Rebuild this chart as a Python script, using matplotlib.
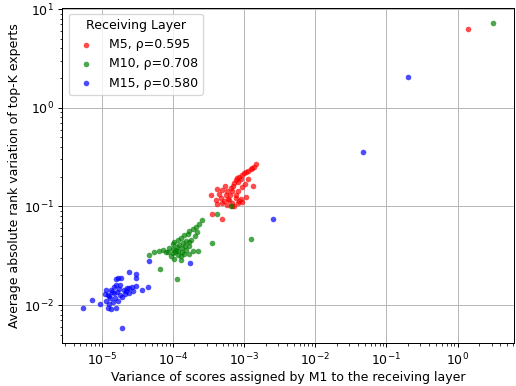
import matplotlib.pyplot as plt
import numpy as np

# values, stored as log10 exponents
m5_log_x = [-2.838, -2.861, -2.885, -2.910, -2.941, -2.973, -3.001, -3.025, -3.071, -3.099,
            -3.118, -3.043, -3.141, -3.092, -3.188, -3.155, -3.235, -3.305, -3.375, -3.258,
            -3.169, -3.081, -2.875, -3.468, -3.398, -3.328, -3.281, -3.211, -3.118, -2.969,
            -3.071, -3.165, -3.235, -3.305, -3.081, -3.141, -3.174, -3.445, -3.305, -3.225,
            -3.352, -3.029, -2.987, -2.945, -3.266, -3.197, -3.113, -3.043, -3.375, -3.029,
            0.150]
m5_log_y = [-0.569, -0.596, -0.612, -0.624, -0.636, -0.649, -0.663, -0.680, -0.697, -0.715,
            -0.730, -0.720, -0.764, -0.751, -0.814, -0.791, -0.848, -0.831, -0.824, -0.882,
            -0.841, -0.848, -0.791, -0.882, -0.932, -0.912, -0.942, -0.932, -0.915, -0.905,
            -0.949, -0.966, -0.983, -0.966, -0.966, -0.993, -1.000, -1.074, -1.127, -0.922,
            -0.871, -0.801, -0.776, -0.720, -0.791, -0.887, -0.882, -0.922, -0.971, -0.958,
            0.798]

m10_log_x = [-3.375, -3.188, -2.899, -3.457, -3.597, -3.632, -3.678, -3.725, -3.772, -3.795,
             -3.842, -3.888, -3.936, -3.982, -4.006, -3.912, -3.856, -3.772, -3.725, -3.646,
             -3.817, -3.958, -4.052, -4.098, -4.192, -4.262, -4.332, -4.006, -3.936, -4.028,
             -3.888, -3.982, -3.888, -3.772, -4.178, -3.950, -3.877, -3.940, -3.814, -3.870,
             -3.968, -4.066, -3.697, -3.748, -3.666, -3.828, -3.996, -3.926, -3.849, -3.772,
             -4.139, 0.504]
m10_log_y = [-1.074, -0.993, -1.326, -1.370, -1.139, -1.180, -1.210, -1.230, -1.245, -1.276,
             -1.291, -1.319, -1.341, -1.357, -1.377, -1.387, -1.367, -1.402, -1.455, -1.447,
             -1.437, -1.437, -1.420, -1.465, -1.447, -1.461, -1.488, -1.471, -1.488, -1.505,
             -1.505, -1.533, -1.538, -1.481, -1.632, -1.733, -1.418, -1.407, -1.346, -1.458,
             -1.463, -1.458, -1.296, -1.336, -1.256, -1.397, -1.427, -1.447, -1.483, -1.362,
             -1.437, 0.859]

m15_log_x = [-5.266, -5.140, -5.032, -4.916, -4.868, -4.798, -4.724, -4.938, -4.938, -4.916,
             -4.864, -4.798, -4.808, -4.776, -4.728, -4.612, -4.518, -4.514, -4.752, -4.682,
             -4.612, -4.566, -4.518, -4.434, -4.356, -4.658, -4.724, -4.822, -4.892, -4.850,
             -4.780, -4.906, -4.878, -4.836, -4.766, -4.696, -4.640, -4.962, -4.900, -4.836,
             -4.612, -4.570, -4.336, -3.758, -4.752, -4.794, -2.596, -1.331, -0.700]
m15_log_y = [-2.026, -1.949, -1.988, -2.026, -2.036, -2.026, -2.230, -1.960, -1.841, -1.892,
             -1.862, -1.791, -1.735, -1.723, -1.720, -1.659, -1.685, -1.720, -1.892, -1.882,
             -1.875, -1.852, -1.801, -1.841, -1.816, -1.859, -1.912, -1.922, -1.932, -1.963,
             -1.953, -1.902, -1.841, -1.811, -1.831, -1.841, -1.821, -1.882, -1.983, -1.872,
             -1.821, -1.811, -1.556, -1.572, -1.791, -1.862, -1.127, -0.444, 0.313]

labels = ['M5, ρ=0.595', 'M10, ρ=0.708', 'M15, ρ=0.580']
colors = ['red', 'green', 'blue']


def plot(ax):
    series = [(m5_log_x, m5_log_y), (m10_log_x, m10_log_y), (m15_log_x, m15_log_y)]
    for (lx, ly), lab, col in zip(series, labels, colors):
        x = 10 ** np.array(lx)
        y = 10 ** np.array(ly)
        ax.scatter(x, y, s=20, color=col, alpha=0.7, linewidths=0, label=lab)

    ax.set_xscale('log')
    ax.set_yscale('log')
    ax.grid(True, which='major', color='#b8b8b8')
    ax.set_axisbelow(True)
    ax.set_xlabel('Variance of scores assigned by M1 to the receiving layer', labelpad=2)
    ax.set_ylabel('Average absolute rank variation of top-K experts', labelpad=2)
    ax.legend(title='Receiving Layer', loc='upper left')


def main():
    # reference looks like a default-size figure shrunk by ~0.9
    fig, ax = plt.subplots(figsize=(516 / 90, 386 / 90), dpi=90)
    plot(ax)
    fig.subplots_adjust(left=0.121, right=0.996, top=0.980, bottom=0.111)
    fig.savefig('out.png', dpi=90)


if __name__ == "__main__":
    main()
